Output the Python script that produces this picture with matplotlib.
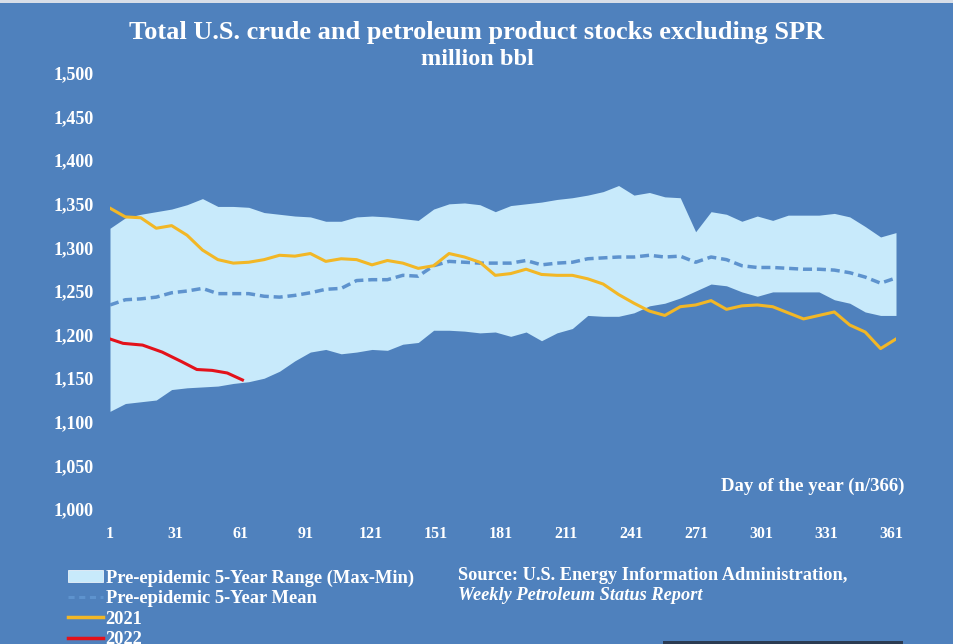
import numpy as np
import matplotlib.pyplot as plt
from matplotlib.patches import Patch, Rectangle
from matplotlib.lines import Line2D

# weekly data, 52 weeks
range_max = [1322, 1334, 1338, 1341, 1344, 1349, 1356, 1347, 1347, 1346,
             1340, 1338, 1336, 1335, 1330, 1330, 1335, 1336, 1335, 1333,
             1331, 1344, 1350, 1351, 1349, 1341, 1348, 1350, 1352, 1355,
             1357, 1360, 1364, 1371, 1360, 1363, 1358, 1357, 1318, 1341,
             1338, 1330, 1336, 1331, 1337, 1337, 1337, 1339, 1335, 1324,
             1312, 1317]
range_min = [1112, 1121, 1123, 1125, 1137, 1139, 1140, 1141, 1144, 1146,
             1150, 1158, 1170, 1180, 1183, 1178, 1180, 1183, 1182, 1189,
             1191, 1205, 1205, 1204, 1202, 1203, 1198, 1203, 1193, 1202,
             1207, 1222, 1221, 1221, 1225, 1233, 1236, 1242, 1250, 1258,
             1256, 1249, 1244, 1249, 1249, 1249, 1249, 1240, 1236, 1226,
             1222, 1222]
mean_5yr = [1234, 1240, 1241, 1243, 1248, 1250, 1253, 1247, 1247, 1247,
            1244, 1243, 1245, 1248, 1252, 1253, 1262, 1263, 1263, 1268,
            1267, 1279, 1284, 1283, 1282, 1282, 1282, 1285, 1280, 1282,
            1283, 1287, 1288, 1289, 1289, 1291, 1289, 1290, 1283, 1289,
            1286, 1279, 1277, 1277, 1276, 1275, 1275, 1274, 1271, 1266,
            1259, 1265]
stocks_2021 = [1345, 1335, 1334, 1322, 1325, 1314, 1297, 1286, 1282, 1283,
               1286, 1291, 1290, 1293, 1284, 1287, 1286, 1280, 1285, 1282,
               1276, 1279, 1293, 1289, 1283, 1268, 1270, 1275, 1269, 1268,
               1268, 1264, 1258, 1246, 1236, 1227, 1222, 1232, 1234, 1239,
               1229, 1233, 1234, 1232, 1225, 1218, 1222, 1226, 1211, 1203,
               1184, 1195]
days_2022 = [1, 7, 16, 25, 34, 41, 48, 55, 62]
stocks_2022 = [1195, 1190, 1188, 1180, 1169, 1160, 1159, 1156, 1148]

days = np.linspace(1, 363, len(stocks_2021))
xticks = [1, 31, 61, 91, 121, 151, 181, 211, 241, 271, 301, 331, 361]
yticks = np.arange(1000, 1501, 50)

bg = '#4F81BD'
band = '#C8EAFB'
mean_c = '#5E93CE'
c21 = '#F2B726'
c22 = '#E3121B'

plt.rcParams['font.family'] = ['Liberation Serif', 'DejaVu Serif']
plt.rcParams['font.weight'] = 'bold'

fig = plt.figure(figsize=(9.54, 6.44), dpi=100, facecolor=bg)
ax = fig.add_axes([0.1153, 0.2096, 0.8239, 0.677])
ax.set_facecolor(bg)

ax.fill_between(days, range_min, range_max, color=band, lw=0, zorder=1)
ax.plot(days, mean_5yr, color=mean_c, lw=2.5, dashes=(2.6, 1.4), zorder=2)
ax.plot(days, stocks_2021, color=c21, lw=2.2, zorder=3)
ax.plot(days_2022, stocks_2022, color=c22, lw=2.2, zorder=4)

ax.set_xlim(1, 363)
ax.set_ylim(1000, 1500)
ax.set_xticks(xticks)
ax.set_yticks(yticks)
ax.set_yticklabels([f'{v:,}' for v in yticks])
ax.tick_params(length=0, colors='white')
ax.tick_params(axis='y', pad=12, labelsize=13)
ax.tick_params(axis='x', pad=12, labelsize=11.5)
for s in ax.spines.values():
    s.set_visible(False)

fig.text(905 / 954, 1 - 486 / 644, 'Day of the year (n/366)',
         ha='right', va='center', color='white', fontsize=13.5, fontweight='bold')

fig.text(0.5, 0.950, 'Total U.S. crude and petroleum product stocks excluding SPR',
         ha='center', va='center', color='white', fontsize=19, fontweight='bold')
fig.text(0.5, 0.907, 'million bbl', ha='center', va='center', color='white',
         fontsize=17.5, fontweight='bold')

handles = [Patch(facecolor=band, edgecolor='white', lw=0.5),
           Line2D([], [], color=mean_c, lw=2.2, dashes=(2, 1.5)),
           Line2D([], [], color=c21, lw=2.5),
           Line2D([], [], color=c22, lw=2.5)]
labels = ['Pre-epidemic 5-Year Range (Max-Min)', 'Pre-epidemic 5-Year Mean',
          '2021', '2022']
fig.legend(handles, labels, loc='upper left', bbox_to_anchor=(0.071, 0.116),
           frameon=False, fontsize=13.3, handlelength=1.9, handleheight=0.6,
           handletextpad=0.15, labelspacing=0.19, borderpad=0, borderaxespad=0,
           labelcolor='white')

fig.text(0.48, 1 - 575 / 644, 'Source: U.S. Energy Information Administration,',
         ha='left', va='center', color='white', fontsize=13.2, fontweight='bold')
fig.text(0.48, 1 - 595 / 644, 'Weekly Petroleum Status Report', ha='left', va='center',
         color='white', fontsize=13.2, fontweight='bold', style='italic')

# thin top border and dark strip at bottom edge
fig.add_artist(Rectangle((0, 0.995), 1, 0.005, transform=fig.transFigure,
                         color='#D8DEE8', lw=0))
fig.add_artist(Rectangle((0.695, 0), 0.252, 0.005, transform=fig.transFigure,
                         color='#2B3B52', lw=0))

plt.savefig('out.png', dpi=100, facecolor=bg)
plt.close()
